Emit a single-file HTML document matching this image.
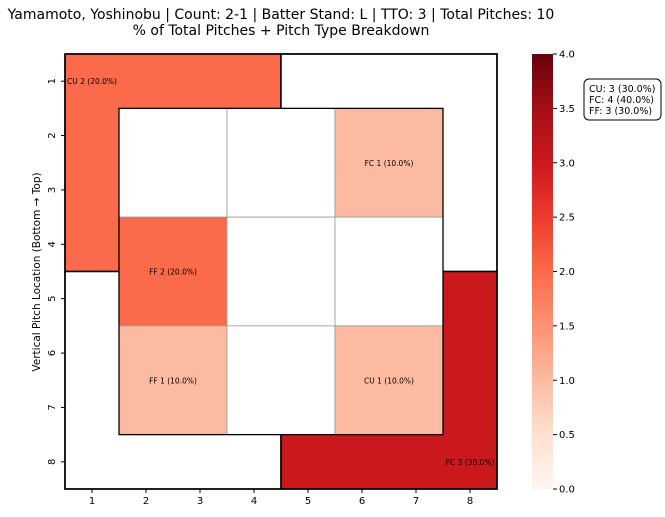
<!DOCTYPE html>
<html><head><meta charset="utf-8"><style>
body{margin:0;background:#fff;font-family:"DejaVu Sans","Liberation Sans",sans-serif}
</style></head><body>
<svg id="chart" width="665" height="513" xmlns="http://www.w3.org/2000/svg" font-family="DejaVu Sans, Liberation Sans, sans-serif">
<text x="281" y="19" font-size="14" text-anchor="middle">Yamamoto, Yoshinobu | Count: 2-1 | Batter Stand: L | TTO: 3 | Total Pitches: 10</text>
<text x="281" y="35" font-size="14" text-anchor="middle">% of Total Pitches + Pitch Type Breakdown</text>
<text transform="translate(40,272) rotate(-90)" font-size="10.5" text-anchor="middle">Vertical Pitch Location (Bottom → Top)</text>
<g id="outer"></g><g id="inner"></g><g id="labels"></g><g id="axes"></g><g id="cbar"></g>
<g>
<rect x="584" y="79" width="77" height="41" rx="5" fill="#fff" stroke="#000" stroke-width="1"/>
<text x="589" y="92" font-size="9.5">CU: 3 (30.0%)</text>
<text x="589" y="103" font-size="9.5">FC: 4 (40.0%)</text>
<text x="589" y="114" font-size="9.5">FF: 3 (30.0%)</text>
</g>
</svg>
<script>
const outerZones=[[0.5,4.5,0.5,4.5],[4.5,8.5,0.5,4.5],[0.5,4.5,4.5,8.5],[4.5,8.5,4.5,8.5]];
const outerValues=[2,0,0,3];
const outerLabels=["CU 2 (20.0%)","","","FC 3 (30.0%)"];
const outerLabelPos=[[1,1],[8,1],[1,8],[8,8]];
const innerValues=[[0,0,1],[2,0,0],[1,0,1]];
const innerLabels=[["","","FC 1 (10.0%)"],["FF 2 (20.0%)","",""],["FF 1 (10.0%)","","CU 1 (10.0%)"]];
const xTicks=[1,2,3,4,5,6,7,8];
const yTicks=[1,2,3,4,5,6,7,8];
const cbarTicks=[0,0.5,1,1.5,2,2.5,3,3.5,4];
const NS="http://www.w3.org/2000/svg";
const X=v=>65+(v-0.5)*54, Y=v=>54+(v-0.5)*54.375;
const CB=v=>489-v/4*435;
const stops=[[0,[255,245,240]],[0.125,[254,224,210]],[0.25,[252,187,161]],[0.375,[252,146,114]],[0.5,[251,106,74]],[0.625,[239,59,44]],[0.75,[203,24,29]],[0.875,[165,15,21]],[1,[103,0,13]]];
function col(v){const t=Math.max(0,Math.min(1,v/4));for(let i=1;i<stops.length;i++){if(t<=stops[i][0]){const a=stops[i-1],b=stops[i],f=(t-a[0])/(b[0]-a[0]);return 'rgb('+a[1].map((c,k)=>Math.round(c+(b[1][k]-c)*f)).join(',')+')';}}return 'rgb(103,0,13)';}
function mk(tag,attrs,parent,txt){const e=document.createElementNS(NS,tag);for(const k in attrs)e.setAttribute(k,attrs[k]);if(txt!==undefined)e.textContent=txt;document.getElementById(parent).appendChild(e);return e;}
outerZones.forEach((z,i)=>{const e=mk('rect',{x:X(z[0]),y:Y(z[2]),width:X(z[1])-X(z[0]),height:Y(z[3])-Y(z[2]),fill:outerValues[i]?col(outerValues[i]):'#fff',stroke:'#000','stroke-width':1.5},'outer');

});
innerValues.forEach((row,r)=>row.forEach((v,c)=>{const x0=1.5+c*2,y0=1.5+r*2;const e=mk('rect',{x:X(x0),y:Y(y0),width:X(x0+2)-X(x0),height:Y(y0+2)-Y(y0),fill:v?col(v):'#fff',stroke:'#999','stroke-width':0.8},'inner');


if(innerLabels[r][c]){const t=mk('text',{x:X(x0+1),y:Y(y0+1)+3,'font-size':7.5,'text-anchor':'middle'},'labels',innerLabels[r][c]);

}}));
mk('rect',{x:X(1.5),y:Y(1.5),width:X(7.5)-X(1.5),height:Y(7.5)-Y(1.5),fill:'none',stroke:'#000','stroke-width':1.3},'inner');
outerLabels.forEach((l,i)=>{if(!l)return;const t=mk('text',{x:X(outerLabelPos[i][0]),y:Y(outerLabelPos[i][1])+3,'font-size':7.5,'text-anchor':'middle'},'labels',l);

});
mk('rect',{x:65,y:54,width:432,height:435,fill:'none',stroke:'#000','stroke-width':1.5},'axes');
xTicks.forEach(v=>{mk('line',{x1:X(v),x2:X(v),y1:489,y2:493,stroke:'#000'},'axes');const t=mk('text',{x:X(v),y:504,'font-size':10,'text-anchor':'middle'},'axes',v);

});
yTicks.forEach(v=>{mk('line',{x1:61,x2:65,y1:Y(v),y2:Y(v),stroke:'#000'},'axes');const t=mk('text',{transform:'translate(55,'+Y(v)+') rotate(-90)','font-size':10,'text-anchor':'middle'},'axes',v);

});
const g=mk('linearGradient',{id:'cg',x1:0,y1:1,x2:0,y2:0},'cbar');
for(let i=0;i<=20;i++){const s=document.createElementNS(NS,'stop');s.setAttribute('offset',i/20);s.setAttribute('stop-color',col(i/5));g.appendChild(s);}
const cb=mk('rect',{x:532,y:54,width:21,height:435,fill:'url(#cg)'},'cbar');


cbarTicks.forEach(v=>{mk('line',{x1:553,x2:557,y1:CB(v),y2:CB(v),stroke:'#000'},'cbar');const t=mk('text',{x:559,y:CB(v)+3.5,'font-size':10},'cbar',v.toFixed(1));

});
</script>
</body></html>
